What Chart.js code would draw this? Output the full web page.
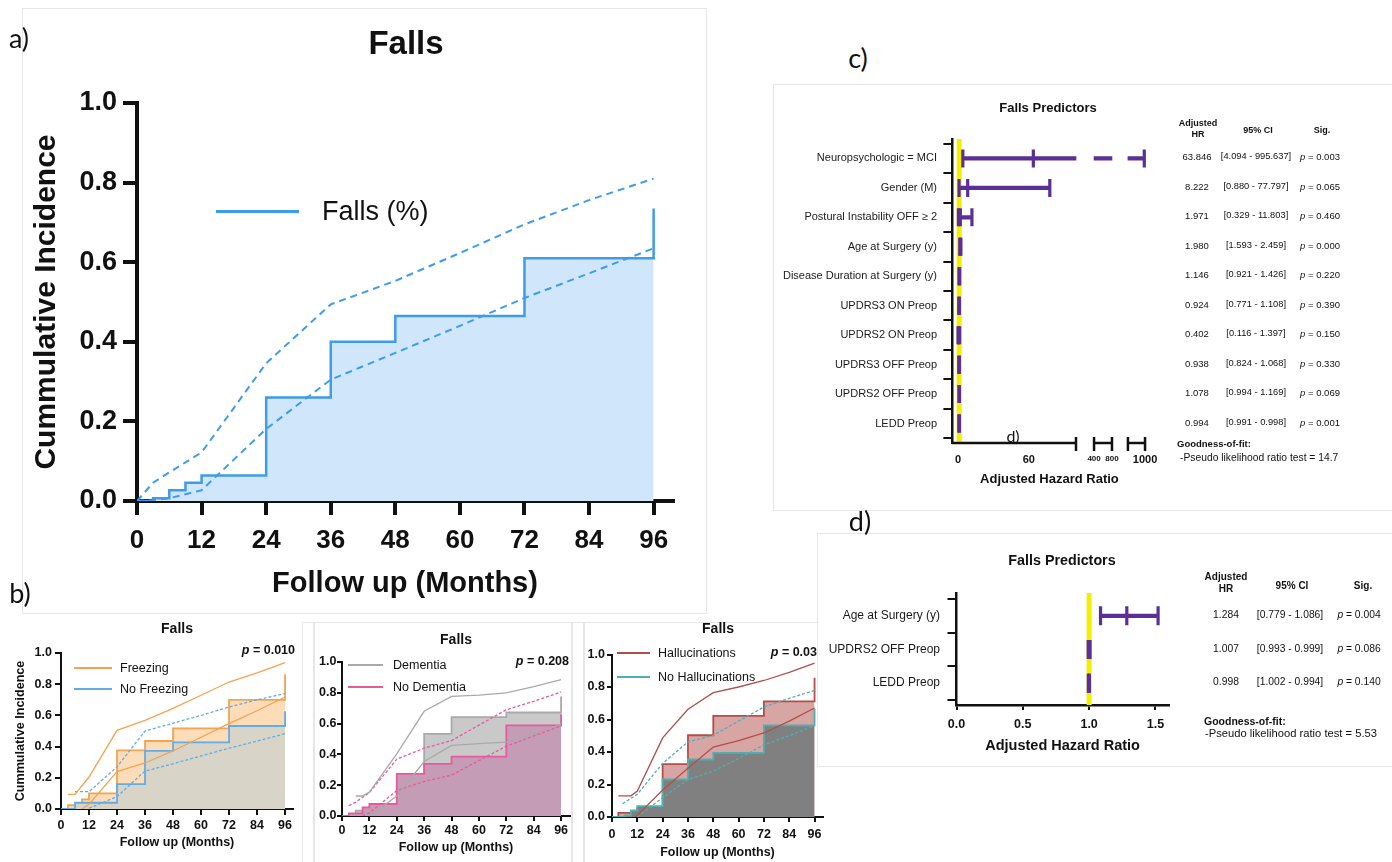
<!DOCTYPE html>
<html>
<head>
<meta charset="utf-8">
<title>Falls</title>
<script src="https://cdn.jsdelivr.net/npm/chart.js@4.4.1/dist/chart.umd.min.js"></script>
<style>
  body { margin: 0; background: #fff; }
  #fig { position: relative; width: 1392px; height: 862px; overflow: hidden; background: #fff;
         font-family: "Liberation Sans", Arial, sans-serif; color: #111; }
  #fig canvas { position: absolute; }
  .t { position: absolute; white-space: nowrap; line-height: 1; }
  .tag { font-family: Lato, "Open Sans", sans-serif; }
  .frame { position: absolute; border: 1px solid #e6e6e6; box-sizing: border-box; }
  .key { position: absolute; }
</style>
</head>
<body>
<div id="fig"></div>
<script>
// ---------- shared axes ----------
const MONTH_TICKS = [0, 12, 24, 36, 48, 60, 72, 84, 96];
const INCIDENCE_TICKS = [0, 0.2, 0.4, 0.6, 0.8, 1];

// ---------- a) whole cohort ----------
const FALLS_STEP_T = [0, 3, 6, 9, 12, 24, 36, 48, 72, 96];
const FALLS_STEP_Y = [0, 0.007, 0.027, 0.046, 0.064, 0.26, 0.40, 0.465, 0.61, 0.735];
const FALLS_CI_T = [0, 3, 6, 12, 24, 36, 48, 60, 72, 84, 96];
const FALLS_UPPER = [0, 0.046, 0.072, 0.122, 0.346, 0.494, 0.553, 0.623, 0.695, 0.756, 0.81];
const FALLS_LOWER = [0, 0.002, 0.007, 0.027, 0.181, 0.305, 0.372, 0.44, 0.51, 0.572, 0.635];

// ---------- b) freezing ----------
const FRZ_STEP_T = [0, 3, 9, 12, 24, 36, 48, 72, 96];
const FRZ_STEP_Y = [0, 0.024, 0.062, 0.10, 0.376, 0.436, 0.517, 0.70, 0.863];
const FRZ_UP_T = [3, 6, 12, 24, 36, 48, 60, 72, 84, 96];
const FRZ_UPPER = [0.094, 0.094, 0.205, 0.504, 0.568, 0.645, 0.729, 0.814, 0.873, 0.938];
const FRZ_LO_T = [9, 12, 24, 36, 48, 60, 72, 84, 96];
const FRZ_LOWER = [0, 0.03, 0.24, 0.295, 0.372, 0.46, 0.547, 0.63, 0.718];
const NOFRZ_STEP_T = [0, 6, 24, 36, 48, 72, 96];
const NOFRZ_STEP_Y = [0, 0.04, 0.16, 0.372, 0.427, 0.532, 0.626];
const NOFRZ_UP_T = [6, 12, 24, 36, 48, 60, 72, 84, 96];
const NOFRZ_UPPER = [0.111, 0.111, 0.27, 0.50, 0.55, 0.60, 0.654, 0.70, 0.74];
const NOFRZ_LO_T = [12, 24, 36, 48, 60, 72, 84, 96];
const NOFRZ_LOWER = [0.005, 0.079, 0.244, 0.29, 0.34, 0.39, 0.435, 0.483];

// ---------- b) dementia ----------
const DEM_STEP_T = [0, 6, 12, 24, 36, 48, 72, 96];
const DEM_STEP_Y = [0, 0.035, 0.056, 0.262, 0.533, 0.642, 0.672, 0.776];
const DEM_UP_T = [6, 9, 12, 24, 36, 48, 60, 72, 84, 96];
const DEM_UPPER = [0.13, 0.13, 0.155, 0.403, 0.68, 0.777, 0.785, 0.80, 0.84, 0.885];
const DEM_LO_T = [12, 24, 36, 48, 60, 72, 84, 96];
const DEM_LOWER = [0, 0.13, 0.354, 0.458, 0.47, 0.48, 0.535, 0.595];
const NODEM_STEP_T = [0, 3, 9, 12, 24, 36, 48, 72, 96];
const NODEM_STEP_Y = [0, 0.017, 0.056, 0.078, 0.273, 0.338, 0.386, 0.588, 0.66];
const NODEM_UP_T = [3, 6, 12, 24, 36, 48, 60, 72, 84, 96];
const NODEM_UPPER = [0.067, 0.09, 0.152, 0.369, 0.44, 0.49, 0.59, 0.69, 0.745, 0.805];
const NODEM_LO_T = [9, 12, 24, 36, 48, 60, 72, 84, 96];
const NODEM_LOWER = [0, 0.02, 0.165, 0.225, 0.265, 0.36, 0.453, 0.52, 0.585];

// ---------- b) hallucinations ----------
const HAL_STEP_T = [0, 3, 12, 24, 36, 48, 72, 96];
const HAL_STEP_Y = [0, 0.025, 0.053, 0.325, 0.503, 0.622, 0.712, 0.857];
const HAL_UP_T = [3, 9, 12, 24, 36, 48, 60, 72, 84, 96];
const HAL_UPPER = [0.13, 0.13, 0.16, 0.487, 0.663, 0.765, 0.80, 0.84, 0.89, 0.947];
const HAL_LO_T = [11, 12, 24, 36, 48, 60, 72, 84, 96];
const HAL_LOWER = [0, 0.01, 0.166, 0.30, 0.43, 0.47, 0.517, 0.59, 0.671];
const NOHAL_STEP_T = [0, 6, 9, 12, 24, 36, 48, 72, 96];
const NOHAL_STEP_Y = [0, 0.01, 0.04, 0.067, 0.231, 0.354, 0.395, 0.564, 0.667];
const NOHAL_UP_T = [5, 12, 24, 36, 48, 60, 72, 84, 96];
const NOHAL_UPPER = [0.082, 0.14, 0.33, 0.462, 0.503, 0.59, 0.677, 0.73, 0.779];
const NOHAL_LO_T = [12, 24, 36, 48, 60, 72, 84, 96];
const NOHAL_LOWER = [0, 0.12, 0.23, 0.282, 0.36, 0.444, 0.50, 0.564];

// ---------- c) multivariable predictors ----------
const PRED_C = ['Neuropsychologic = MCI', 'Gender (M)', 'Postural Instability OFF ≥ 2', 'Age at Surgery (y)',
  'Disease Duration at Surgery (y)', 'UPDRS3 ON Preop', 'UPDRS2 ON Preop', 'UPDRS3 OFF Preop',
  'UPDRS2 OFF Preop', 'LEDD Preop'];
const HR_C = [63.846, 8.222, 1.971, 1.980, 1.146, 0.924, 0.402, 0.938, 1.078, 0.994];
const LO_C = [4.094, 0.880, 0.329, 1.593, 0.921, 0.771, 0.116, 0.824, 0.994, 0.991];
const HI_C = [995.637, 77.797, 11.803, 2.459, 1.426, 1.108, 1.397, 1.068, 1.169, 0.998];
const P_C = ['0.003', '0.065', '0.460', '0.000', '0.220', '0.390', '0.150', '0.330', '0.069', '0.001'];
const HR_AXIS_VALUES = [0, 60, 400, 800, 1000];

// ---------- d) reduced model ----------
const PRED_D = ['Age at Surgery (y)', 'UPDRS2 OFF Preop', 'LEDD Preop'];
const HR_D = [1.284, 1.007, 0.998];
const CI_LO_D = [0.779, 0.993, 1.002];
const CI_HI_D = [1.086, 0.999, 0.994];
const WHISKER_LO_D = [1.086, 0.993, 0.994];
const WHISKER_HI_D = [1.52, 0.999, 1.002];
const P_D = ['0.004', '0.086', '0.140'];
const D_AXIS_TICKS = [0, 0.5, 1, 1.5];

// ---------- colours ----------
const BLUE = '#3f9bec', BLUE_FILL = '#d0e6fa';
const ORANGE = '#f3a352', ORANGE_FILL = '#fddcb8', SHARED_FILL = '#d8d4c7', SKY = '#62ace6';
const GREY = '#a9a9a9', GREY_FILL = '#c9c9c9', PINK = '#e9599d', MAUVE = '#c59cb6';
const RED = '#b34e4a', RED_FILL = '#d6a5a4', TEAL = '#4db1b0', DARK_FILL = '#808080';
const PURPLE = '#5a2f98', YELLOW = '#f4ee00';

Chart.defaults.font.family = '"Liberation Sans", Arial, sans-serif';
Chart.defaults.color = '#111';

const fig = document.getElementById('fig');

function put(html, x, y, o = {}) {
  const el = document.createElement('div');
  el.className = 't' + (o.cls ? ' ' + o.cls : '');
  el.innerHTML = html;
  const dx = o.align === 'left' ? '0' : o.align === 'right' ? '-100%' : '-50%';
  Object.assign(el.style, {
    left: x + 'px', top: y + 'px', fontSize: (o.size || 11) + 'px',
    fontWeight: o.bold ? 'bold' : 'normal', transform: `translate(${dx},-50%)`
  });
  fig.appendChild(el);
  return el;
}

function frame(x, y, w, h, noRight) {
  const el = document.createElement('div');
  el.className = 'frame';
  Object.assign(el.style, { left: x + 'px', top: y + 'px', width: w + 'px', height: h + 'px' });
  if (noRight) el.style.borderRight = 'none';
  fig.appendChild(el);
}

function keyLine(x1, x2, y, color, width) {
  const el = document.createElement('div');
  el.className = 'key';
  Object.assign(el.style, { left: x1 + 'px', top: (y - width / 2) + 'px', width: (x2 - x1) + 'px', height: width + 'px', background: color });
  fig.appendChild(el);
}

function canvasAt(x, y, w, h) {
  const cv = document.createElement('canvas');
  cv.width = w; cv.height = h;
  Object.assign(cv.style, { left: x + 'px', top: y + 'px', width: w + 'px', height: h + 'px' });
  fig.appendChild(cv);
  return cv;
}

const pts = (t, v) => t.map((x, i) => ({ x, y: v[i] }));

// panel frames
frame(22, 8, 685, 606);
frame(302, 622, 270, 300);
frame(313, 622, 1, 300);
frame(572, 622, 245, 300, true);
frame(583, 622, 1, 300);
frame(773, 84, 640, 427);
frame(817, 533, 600, 234);

// ---------- Kaplan-Meier style cumulative incidence ----------
function kmChart(g, datasets) {
  const cv = canvasAt(g.x, g.y, g.w, g.h);
  const grid = () => ({ drawOnChartArea: false, tickLength: g.tickLen, color: '#111', lineWidth: g.axisW });
  const border = () => ({ color: '#111', width: g.axisW });
  return new Chart(cv, {
    type: 'line',
    data: { datasets },
    options: {
      responsive: false, animation: false,
      layout: { padding: { left: 0, top: g.top, right: g.right, bottom: 0 } },
      plugins: { legend: { display: false }, tooltip: { enabled: false } },
      elements: { point: { radius: 0 }, line: { tension: 0 } },
      scales: {
        x: {
          type: 'linear', min: 0, max: g.xMax,
          afterBuildTicks: s => { s.ticks = MONTH_TICKS.map(value => ({ value })); },
          afterFit: s => { s.height = g.xH; },
          grid: grid(), border: border(),
          ticks: { autoSkip: false, maxRotation: 0, padding: g.xPad, font: { size: g.xFont, weight: 'bold', lineHeight: 1 } },
          title: { display: true, text: 'Follow up (Months)', padding: { top: 0, bottom: g.xTitlePad },
                   font: { size: g.xTitle, weight: 'bold', lineHeight: 1 } }
        },
        y: {
          type: 'linear', min: 0, max: 1,
          afterBuildTicks: s => { s.ticks = INCIDENCE_TICKS.map(value => ({ value })); },
          afterFit: s => { s.width = g.yW; },
          grid: grid(), border: border(),
          ticks: { autoSkip: false, padding: g.yPad, callback: v => v.toFixed(1), font: { size: g.yFont, weight: 'bold', lineHeight: 1 } },
          title: { display: !!g.yTitle, text: 'Cummulative Incidence', padding: { top: g.yTitlePad || 0, bottom: 0 },
                   font: { size: g.yTitle || 12, weight: 'bold', lineHeight: 1 } }
        }
      }
    }
  });
}

function bounds(upT, upper, loT, lower, color, dashed) {
  const dash = dashed ? [3, 2] : [];
  return [
    { data: pts(upT, upper), borderColor: color, borderWidth: 1.3, borderDash: dash, fill: false },
    { data: pts(loT, lower), borderColor: color, borderWidth: 1.3, borderDash: dash, fill: false }
  ];
}

function steps(t, v, color, fillColor, width) {
  return { data: pts(t, v), stepped: true, borderColor: color, borderWidth: width, fill: 'origin', backgroundColor: fillColor };
}

// a)
kmChart({ x: 0, y: 0, w: 700, h: 600, top: 103, right: 27, yW: 137, xH: 99, xMax: 99.6,
          axisW: 4, tickLen: 14, yFont: 27, xFont: 26, yPad: 6, xPad: 13,
          xTitle: 29, xTitlePad: 1.5, yTitle: 30, yTitlePad: 32 }, [
  { data: pts(FALLS_CI_T, FALLS_UPPER), borderColor: BLUE, borderWidth: 2, borderDash: [7, 5], fill: false },
  { data: pts(FALLS_CI_T, FALLS_LOWER), borderColor: BLUE, borderWidth: 2, borderDash: [7, 5], fill: false },
  steps(FALLS_STEP_T, FALLS_STEP_Y, BLUE, BLUE_FILL, 2.5)
]);

// b) freezing
kmChart({ x: 0, y: 600, w: 310, h: 262, top: 53, right: 17, yW: 61, xH: 53, xMax: 99.4,
          axisW: 2, tickLen: 6, yFont: 12.5, xFont: 12.5, yPad: 3, xPad: 4.5,
          xTitle: 12.5, xTitlePad: 12.75, yTitle: 12.6, yTitlePad: 14.7 }, [
  ...bounds(FRZ_UP_T, FRZ_UPPER, FRZ_LO_T, FRZ_LOWER, ORANGE, false),
  ...bounds(NOFRZ_UP_T, NOFRZ_UPPER, NOFRZ_LO_T, NOFRZ_LOWER, SKY, true),
  steps(NOFRZ_STEP_T, NOFRZ_STEP_Y, SKY, SHARED_FILL, 1.8),
  steps(FRZ_STEP_T, FRZ_STEP_Y, ORANGE, ORANGE_FILL, 1.8)
]);

// b) dementia
kmChart({ x: 310, y: 600, w: 270, h: 262, top: 62, right: 10, yW: 32, xH: 46, xMax: 99.9,
          axisW: 2, tickLen: 5, yFont: 12.5, xFont: 12.5, yPad: 0.5, xPad: 3.75,
          xTitle: 12.5, xTitlePad: 7.75 }, [
  ...bounds(DEM_UP_T, DEM_UPPER, DEM_LO_T, DEM_LOWER, GREY, false),
  ...bounds(NODEM_UP_T, NODEM_UPPER, NODEM_LO_T, NODEM_LOWER, PINK, true),
  steps(NODEM_STEP_T, NODEM_STEP_Y, PINK, MAUVE, 1.8),
  steps(DEM_STEP_T, DEM_STEP_Y, GREY, GREY_FILL, 1.8)
]);

// b) hallucinations
kmChart({ x: 580, y: 600, w: 250, h: 262, top: 54.5, right: 7, yW: 32, xH: 45, xMax: 100,
          axisW: 2, tickLen: 5, yFont: 12.5, xFont: 12.5, yPad: 2, xPad: 6.75,
          xTitle: 12.5, xTitlePad: 2.75 }, [
  ...bounds(HAL_UP_T, HAL_UPPER, HAL_LO_T, HAL_LOWER, RED, false),
  ...bounds(NOHAL_UP_T, NOHAL_UPPER, NOHAL_LO_T, NOHAL_LOWER, TEAL, true),
  steps(NOHAL_STEP_T, NOHAL_STEP_Y, TEAL, DARK_FILL, 1.8),
  steps(HAL_STEP_T, HAL_STEP_Y, RED, RED_FILL, 1.8)
]);

// ---------- forest plots ----------
// broken hazard-ratio axis: [value from, value to, axis position at start, axis units per HR unit]
const AXIS_SEGMENTS = [[-5, 100, -5, 1], [400, 800, 115.3, 15.2 / 400], [900, 1000, 144, 14.5 / 100]];

function toAxis(v) {
  for (const [a, b, p, k] of AXIS_SEGMENTS) if (v >= a && v <= b) return p + (v - a) * k;
  return null;
}

function pieces(lo, hi) {
  return AXIS_SEGMENTS.map(([a, b]) => [Math.max(lo, a), Math.min(hi, b)])
    .filter(([s, e]) => e > s)
    .map(([s, e]) => [toAxis(s), toAxis(e)]);
}

const brokenAxis = {
  id: 'brokenAxis',
  afterDraw(chart) {
    const { ctx, chartArea, scales: { x } } = chart;
    const y = chartArea.bottom;
    ctx.save();
    ctx.strokeStyle = '#111';
    ctx.lineWidth = 2.5;
    AXIS_SEGMENTS.forEach(([a, b], i) => {
      const x1 = x.getPixelForValue(toAxis(a));
      const x2 = x.getPixelForValue(toAxis(b));
      ctx.beginPath();
      ctx.moveTo(x1, y); ctx.lineTo(x2, y);
      if (i > 0) { ctx.moveTo(x1, y - 6); ctx.lineTo(x1, y + 8); }
      ctx.moveTo(x2, y - 6); ctx.lineTo(x2, y + 8);
      ctx.stroke();
    });
    ctx.restore();
  }
};

function forestChart(g, labels, caps, whiskers, xScale, plugins) {
  const cv = canvasAt(g.x, g.y, g.w, g.h);
  return new Chart(cv, {
    type: 'scatter',
    data: {
      datasets: [
        { type: 'scatter', data: caps, pointStyle: 'line', pointRotation: 90, pointRadius: g.capR,
          pointBorderWidth: 3.2, pointBorderColor: PURPLE, borderColor: PURPLE, order: 1 },
        { type: 'bar', indexAxis: 'y', data: whiskers, backgroundColor: PURPLE, barThickness: 3.5, borderWidth: 0, order: 2 },
        { type: 'line', data: [{ x: 1, y: g.yMin }, { x: 1, y: g.yMax }], borderColor: YELLOW, borderWidth: 5,
          pointRadius: 0, fill: false, order: 3 }
      ]
    },
    options: {
      responsive: false, animation: false,
      layout: { padding: { left: 0, top: g.top, right: g.right, bottom: 0 } },
      plugins: { legend: { display: false }, tooltip: { enabled: false } },
      scales: {
        x: xScale,
        y: {
          type: 'linear', reverse: true, min: g.yMin, max: g.yMax, offset: false,
          afterBuildTicks: s => { s.ticks = labels.map((_, i) => ({ value: i })); },
          afterFit: s => { s.width = g.yW; },
          grid: { drawOnChartArea: false, tickLength: g.yTick, color: '#111', lineWidth: 2 },
          border: { color: '#111', width: 2.5 },
          ticks: { autoSkip: false, padding: g.yPad, callback: (v, i) => labels[i], color: '#1a1a1a',
                   font: { size: g.labelFont, lineHeight: 1 } }
        }
      }
    },
    plugins: plugins || []
  });
}

// c)
const GEOM_C = { x: 772, y: 82, w: 620, h: 430, top: 57, right: 245.2, yW: 180.1,
                 yMin: -0.66, yMax: 9.66, yTick: 8.7, yPad: 6.4, labelFont: 11, capR: 9 };
const capsC = [], whiskersC = [];
PRED_C.forEach((_, i) => {
  [LO_C[i], HR_C[i], HI_C[i]].forEach(v => capsC.push({ x: toAxis(v), y: i }));
  pieces(LO_C[i], HI_C[i]).forEach(p => whiskersC.push({ x: p, y: i }));
});
const chartC = forestChart(GEOM_C, PRED_C, capsC, whiskersC, {
  type: 'linear', min: -5, max: 160, offset: false,
  afterBuildTicks: s => { s.ticks = HR_AXIS_VALUES.map(v => ({ value: toAxis(v) })); },
  afterFit: s => { s.height = 69; },
  grid: { display: false, drawTicks: false },
  border: { display: false },
  ticks: { autoSkip: false, maxRotation: 0, padding: 11.75, callback: (v, i) => String(HR_AXIS_VALUES[i]),
           font: c => ({ size: [400, 800].includes(HR_AXIS_VALUES[c.index]) ? 8 : 11, weight: 'bold', lineHeight: 1 }) },
  title: { display: true, text: 'Adjusted Hazard Ratio', padding: { top: 0, bottom: 26.5 },
           font: { size: 13, weight: 'bold', lineHeight: 1 } }
}, [brokenAxis]);

// d)
const GEOM_D = { x: 816, y: 534, w: 576, h: 236, top: 59, right: 223.3, yW: 140.5,
                 yMin: -0.68, yMax: 2.65, yTick: 9, yPad: 7.5, labelFont: 12, capR: 9.5 };
const capsD = [], whiskersD = [];
PRED_D.forEach((_, i) => {
  [WHISKER_LO_D[i], HR_D[i], WHISKER_HI_D[i]].forEach(v => capsD.push({ x: v, y: i }));
  whiskersD.push({ x: [WHISKER_LO_D[i], WHISKER_HI_D[i]], y: i });
});
const chartD = forestChart(GEOM_D, PRED_D, capsD, whiskersD, {
  type: 'linear', min: 0, max: 1.6, offset: false,
  afterBuildTicks: s => { s.ticks = D_AXIS_TICKS.map(value => ({ value })); },
  afterFit: s => { s.height = 65; },
  grid: { drawOnChartArea: false, tickLength: 5, color: '#111', lineWidth: 2 },
  border: { color: '#111', width: 2.5 },
  ticks: { autoSkip: false, maxRotation: 0, padding: 8.75, callback: v => v.toFixed(1),
           font: { size: 12.5, weight: 'bold', lineHeight: 1 } },
  title: { display: true, text: 'Adjusted Hazard Ratio', padding: { top: 0, bottom: 16.75 },
           font: { size: 14.5, weight: 'bold', lineHeight: 1 } }
});

// ---------- text ----------
put('a)', 19, 37, { size: 27, cls: 'tag' });
put('b)', 20, 592, { size: 27, cls: 'tag' });
put('c)', 858, 57, { size: 27, cls: 'tag' });
put('d)', 860, 520, { size: 27, cls: 'tag' });

put('Falls', 406, 42, { size: 33, bold: true });
keyLine(216, 299, 211, BLUE, 3);
put('Falls (%)', 322, 211, { size: 27, align: 'left' });

put('Falls', 177, 628, { size: 14, bold: true });
put('<i>p</i> = 0.010', 295, 650, { size: 12.5, bold: true, align: 'right' });
keyLine(74, 112, 668, ORANGE, 1.6);
keyLine(74, 112, 689, SKY, 1.6);
put('Freezing', 120, 668, { size: 12.5, align: 'left' });
put('No Freezing', 120, 689, { size: 12.5, align: 'left' });

put('Falls', 456, 639, { size: 14, bold: true });
put('<i>p</i> = 0.208', 569, 661, { size: 12.5, bold: true, align: 'right' });
keyLine(348, 383, 665, GREY, 1.6);
keyLine(348, 383, 687, PINK, 1.6);
put('Dementia', 393, 665, { size: 12.5, align: 'left' });
put('No Dementia', 393, 687, { size: 12.5, align: 'left' });

put('Falls', 718, 628, { size: 14, bold: true });
put('<i>p</i> = 0.03', 817, 652, { size: 12.5, bold: true, align: 'right' });
keyLine(617, 650, 653, RED, 1.6);
keyLine(617, 650, 677, TEAL, 1.6);
put('Hallucinations', 658, 653, { size: 12.5, align: 'left' });
put('No Hallucinations', 658, 677, { size: 12.5, align: 'left' });

// c) table
put('Falls Predictors', 1048, 107, { size: 13, bold: true });
put('Adjusted', 1198, 123, { size: 9, bold: true });
put('HR', 1198, 133.5, { size: 9, bold: true });
put('95% CI', 1258, 130, { size: 9, bold: true });
put('Sig.', 1322, 130, { size: 9, bold: true });
PRED_C.forEach((_, i) => {
  const y = GEOM_C.y + chartC.scales.y.getPixelForValue(i) - 1;
  put(HR_C[i].toFixed(3), 1197, y, { size: 9.5 });
  put(`[${LO_C[i].toFixed(3)} - ${HI_C[i].toFixed(3)}]`, 1256, y, { size: 9.3 });
  put(`<i>p</i> = ${P_C[i]}`, 1320, y, { size: 9.5 });
});
put('Goodness-of-fit:', 1177, 444, { size: 9.5, bold: true, align: 'left' });
put('-Pseudo likelihood ratio test = 14.7', 1180, 458, { size: 10.3, align: 'left' });
put('d)', 1013, 436, { size: 16, cls: 'tag' });

// d) table
put('Falls Predictors', 1062, 560, { size: 14.3, bold: true });
put('Adjusted', 1226, 577, { size: 10, bold: true });
put('HR', 1226, 589, { size: 10, bold: true });
put('95% CI', 1292, 586, { size: 10, bold: true });
put('Sig.', 1363, 586, { size: 10, bold: true });
PRED_D.forEach((_, i) => {
  const y = GEOM_D.y + chartD.scales.y.getPixelForValue(i) - 1;
  put(HR_D[i].toFixed(3), 1226, y, { size: 10.3 });
  put(`[${CI_LO_D[i].toFixed(3)} - ${CI_HI_D[i].toFixed(3)}]`, 1290, y, { size: 10.3 });
  put(`<i>p</i> = ${P_D[i]}`, 1359, y, { size: 10.3 });
});
put('Goodness-of-fit:', 1204, 721, { size: 10.5, bold: true, align: 'left' });
put('-Pseudo likelihood ratio test = 5.53', 1205, 734, { size: 11.2, align: 'left' });
</script>
</body>
</html>
